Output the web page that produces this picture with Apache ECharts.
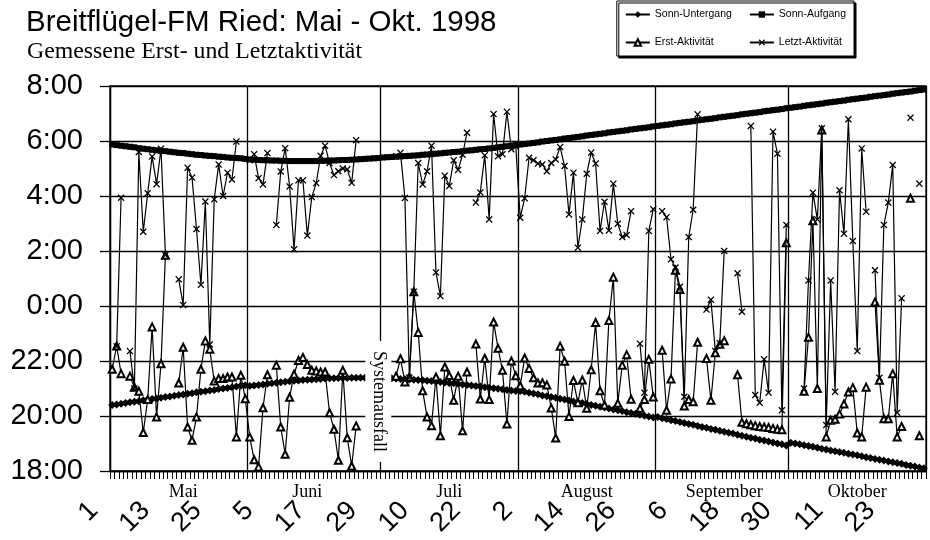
<!DOCTYPE html>
<html><head><meta charset="utf-8">
<script src="https://cdn.jsdelivr.net/npm/echarts@6/dist/echarts.min.js"></script>
<style>html,body{margin:0;padding:0;background:#fff}#chart{width:930px;height:540px}</style>
</head><body><div id="chart"></div>
<script>
// ---- categories / tick labels ----
const monthNames = ['Mai', 'Juni', 'Juli', 'August', 'September', 'Oktober'];
const monthDays = [31, 30, 31, 31, 30, 31];
const monthLabelIndex = [16, 44, 76, 107, 138, 168];
const dayTickLabels = ['1', '13', '25', '5', '17', '29', '10', '22', '2', '14', '26', '6', '18', '30', '11', '23'];
const yTickLabels = ['18:00', '20:00', '22:00', '0:00', '2:00', '4:00', '6:00', '8:00'];

// values: hours after 18:00
// Sonn-Aufgang
const aufgangMai = [11.87, 11.85, 11.83, 11.81, 11.79, 11.77, 11.74, 11.72, 11.70, 11.68, 11.66, 11.64, 11.63, 11.61, 11.59, 11.57, 11.56, 11.54, 11.52, 11.50, 11.49, 11.47, 11.46, 11.45, 11.43, 11.42, 11.40, 11.39, 11.38, 11.37, 11.35];
const aufgangJuni = [11.33, 11.32, 11.31, 11.30, 11.30, 11.29, 11.29, 11.28, 11.28, 11.27, 11.27, 11.27, 11.27, 11.27, 11.27, 11.27, 11.28, 11.28, 11.29, 11.29, 11.30, 11.31, 11.31, 11.32, 11.33, 11.34, 11.35, 11.36, 11.37, 11.38];
const aufgangJuli = [11.40, 11.41, 11.42, 11.43, 11.44, 11.45, 11.46, 11.47, 11.48, 11.50, 11.51, 11.52, 11.54, 11.55, 11.57, 11.58, 11.60, 11.61, 11.63, 11.65, 11.66, 11.68, 11.70, 11.71, 11.73, 11.75, 11.77, 11.79, 11.81, 11.83, 11.85];
const aufgangAugust = [11.87, 11.89, 11.91, 11.93, 11.95, 11.98, 12.00, 12.02, 12.04, 12.06, 12.09, 12.11, 12.13, 12.15, 12.17, 12.20, 12.22, 12.24, 12.26, 12.28, 12.31, 12.33, 12.35, 12.37, 12.39, 12.42, 12.44, 12.46, 12.48, 12.50, 12.53];
const aufgangSeptember = [12.55, 12.57, 12.59, 12.61, 12.64, 12.66, 12.68, 12.70, 12.72, 12.75, 12.77, 12.79, 12.81, 12.83, 12.86, 12.88, 12.90, 12.92, 12.94, 12.97, 12.99, 13.01, 13.03, 13.05, 13.08, 13.10, 13.12, 13.14, 13.16, 13.19];
const aufgangOktober = [13.21, 13.23, 13.25, 13.28, 13.30, 13.32, 13.34, 13.36, 13.39, 13.41, 13.43, 13.45, 13.47, 13.50, 13.52, 13.54, 13.56, 13.58, 13.61, 13.63, 13.65, 13.67, 13.69, 13.72, 13.74, 13.76, 13.78, 13.80, 13.83, 13.85, 13.87];

// Sonn-Untergang
const untergangMai = [2.40, 2.42, 2.45, 2.47, 2.50, 2.52, 2.54, 2.57, 2.59, 2.62, 2.64, 2.66, 2.69, 2.71, 2.74, 2.76, 2.78, 2.81, 2.83, 2.86, 2.88, 2.90, 2.93, 2.95, 2.98, 3.00, 3.02, 3.05, 3.07, 3.10, 3.12];
const untergangJuni = [3.09, 3.11, 3.13, 3.15, 3.17, 3.19, 3.21, 3.23, 3.25, 3.26, 3.28, 3.29, 3.31, 3.32, 3.33, 3.34, 3.35, 3.36, 3.37, 3.37, 3.38, 3.38, 3.38, 3.39, 3.39, 3.39, 3.39, null, null, null];
const untergangJuli = [null, null, 3.37, 3.36, 3.35, 3.34, 3.33, 3.32, 3.31, 3.30, 3.28, 3.27, 3.25, 3.24, 3.22, 3.20, 3.19, 3.17, 3.15, 3.13, 3.11, 3.09, 3.07, 3.05, 3.03, 3.01, 2.99, 2.97, 2.95, 2.93, 2.91];
const untergangAugust = [2.91, 2.88, 2.85, 2.82, 2.79, 2.75, 2.72, 2.69, 2.66, 2.63, 2.60, 2.56, 2.53, 2.50, 2.47, 2.44, 2.40, 2.37, 2.34, 2.31, 2.27, 2.24, 2.21, 2.18, 2.14, 2.11, 2.08, 2.05, 2.01, 1.98, 1.95];
const untergangSeptember = [1.96, 1.92, 1.89, 1.85, 1.82, 1.78, 1.75, 1.71, 1.68, 1.64, 1.60, 1.57, 1.53, 1.50, 1.46, 1.43, 1.39, 1.36, 1.32, 1.28, 1.25, 1.21, 1.18, 1.14, 1.11, 1.07, 1.04, 1.00, 0.97, 0.93];
const untergangOktober = [1.03, 1.00, 0.97, 0.94, 0.91, 0.88, 0.85, 0.81, 0.78, 0.75, 0.72, 0.69, 0.66, 0.63, 0.60, 0.57, 0.54, 0.50, 0.47, 0.44, 0.41, 0.38, 0.35, 0.32, 0.29, 0.26, 0.22, 0.19, 0.16, 0.13, 0.10];

// Erst-Aktivität
const erstMai = [3.7, 4.55, 3.54, null, 3.45, 3.05, 2.9, 1.4, 2.6, 5.24, 1.96, 3.9, 7.85, null, null, 3.2, 4.5, 1.6, 1.12, 1.96, 3.7, 4.73, 4.43, 3.27, 3.36, 3.36, 3.42, 3.42, 1.24, 3.48, 2.63];
const erstJuni = [1.24, 0.41, 0.15, 2.3, 3.5, null, 3.85, 1.6, 0.61, 2.68, 3.52, 4.02, 4.13, 3.87, 3.66, 3.64, 3.6, 3.6, 2.12, 1.52, 0.39, 3.66, 1.21, 0.18, 1.64, null, null, null, null, null];
const erstJuli = [null, null, null, 3.45, 4.08, 3.24, 3.42, 6.52, 5.04, 2.92, 1.96, 1.65, 3.42, 1.28, 3.78, 3.47, 2.57, 3.45, 1.46, 3.6, null, 4.62, 2.62, 4.1, 2.6, 5.42, 4.46, 3.66, 1.71, 4.0, 3.46];
const erstAugust = [3.1, 4.11, 3.73, 3.39, 3.2, 3.21, 3.13, 2.29, 1.2, 4.54, 3.99, 1.98, 3.29, 2.48, 3.31, 2.28, 3.68, 5.4, 2.92, 2.4, 5.47, 7.05, 2.46, 3.85, 4.23, 2.61, null, 2.28, 2.6, 4.06, 2.69];
const erstSeptember = [null, 4.39, 2.21, 3.35, 7.3, 6.6, 2.36, 2.6, 2.52, 4.68, null, 4.09, 2.57, 4.3, 4.61, 4.74, null, null, 3.5, 1.77, 1.72, 1.68, 1.65, 1.62, 1.6, 1.58, 1.55, 1.52, 1.5, 8.3];
const erstOktober = [null, null, null, 2.9, 4.86, 9.1, 3.0, 12.4, 1.24, 1.85, 1.88, 2.07, 2.44, 2.87, 3.03, 1.38, 1.24, 3.05, null, 6.15, 3.3, 1.9, 1.9, 3.54, 1.24, 1.62, null, 9.92, null, 1.28, null];

// Letzt-Aktivität
const letztMai = [null, 4.53, 9.94, null, 4.36, 3.0, 11.6, 8.7, 10.1, 11.44, 10.43, 11.72, 7.85, null, null, 6.97, 6.04, 11.03, 10.67, 8.8, 6.77, 9.8, 4.6, 9.88, 11.15, 10.0, 10.85, 10.6, 11.98, null, null];
const letztJuni = [11.3, 11.52, 10.65, 10.42, 11.56, null, 8.95, 10.89, 11.74, 10.35, 8.06, 10.57, 10.57, 8.56, 9.96, 10.47, 11.46, 11.83, 11.2, 10.76, 10.9, 11.0, 10.97, 10.48, 12.03, null, null, null, null, null];
const letztJuli = [null, null, null, 11.45, 11.57, 9.93, 3.4, 6.52, 11.2, 10.42, 10.9, 11.83, 7.22, 6.36, 10.74, 10.36, 11.3, 10.95, 11.5, 12.3, null, 9.76, 10.13, 11.48, 9.15, 12.98, 11.45, 11.52, 13.06, 11.7, 11.8];
const letztAugust = [9.21, 9.92, 11.39, 11.3, 11.18, 11.15, 10.9, 11.2, 11.33, 11.78, 11.09, 9.33, 10.85, 8.12, 9.15, 10.81, 11.58, 11.18, 8.73, 9.79, 8.75, 10.45, 8.99, 8.51, 8.58, 9.45, null, 4.63, 2.85, 8.73, 9.52];
const letztSeptember = [null, 9.45, 9.23, 7.7, 7.4, 6.7, 2.7, 8.51, 9.5, 12.97, null, 5.87, 6.23, 4.36, 4.65, 8.0, null, null, 7.19, 5.79, null, 12.55, 2.76, 2.48, 4.06, 2.85, 12.34, 11.54, 2.21, 8.95];
const letztOktober = [null, null, null, 3.0, 6.93, 10.12, 9.15, 12.46, 1.67, 6.93, 2.88, 10.21, 8.63, 12.79, 8.36, 4.36, 11.73, 9.43, null, 7.3, 3.39, 8.95, 9.76, 11.13, 2.12, 6.28, null, 12.85, null, 10.45, null];

// ---- build ----
const join = (...a) => [].concat(...a);
const aufgang = join(aufgangMai, aufgangJuni, aufgangJuli, aufgangAugust, aufgangSeptember, aufgangOktober);
const erst = join(erstMai, erstJuni, erstJuli, erstAugust, erstSeptember, erstOktober);
const letzt = join(letztMai, letztJuni, letztJuli, letztAugust, letztSeptember, letztOktober);
const untergangMonths = [untergangMai, untergangJuni, untergangJuli, untergangAugust, untergangSeptember, untergangOktober];
const nDays = aufgang.length;
const cats = Array.from({length: nDays}, (_, i) => String(i));
const monthStart = [];
{ let s = 0; monthDays.forEach(d => { monthStart.push(s); s += d; }); }
// slots for the rotated day-number row (its spacing in the original is slightly tighter than the day grid)
const labelSlots = Array.from({length: 189}, (_, i) => String(i));

const crossPath = 'path://M0,1.3L1.3,0L5,3.7L8.7,0L10,1.3L6.3,5L10,8.7L8.7,10L5,6.3L1.3,10L0,8.7L3.7,5Z';
const black = '#000';
const gridW = 1.3;

const untergangSeries = untergangMonths.map((arr, m) => {
  const data = new Array(nDays).fill(null);
  arr.forEach((v, i) => { data[monthStart[m] + i] = v; });
  return {
    name: 'Sonn-Untergang', type: 'line', data: data, xAxisIndex: 0,
    symbol: 'diamond', symbolSize: 8, showAllSymbol: true,
    lineStyle: {color: black, width: 4}, itemStyle: {color: black},
    emphasis: {disabled: true}, silent: true, z: 2
  };
});

const chart = echarts.init(document.getElementById('chart'), null, {renderer: 'canvas'});
chart.setOption({
  animation: false,
  backgroundColor: '#fff',
  title: [
    {text: 'Breitflügel-FM Ried: Mai - Okt. 1998', left: 26, top: 8, padding: 0,
     textStyle: {fontFamily: 'Liberation Sans', fontSize: 29.5, fontWeight: 'normal', color: black}},
    {text: 'Gemessene Erst- und Letztaktivität', left: 27, top: 40, padding: 0,
     textStyle: {fontFamily: 'Liberation Serif', fontSize: 23.8, fontWeight: 'normal', color: black}}
  ],
  legend: {
    orient: 'vertical', right: 76, top: 1, height: 45, itemGap: 17,
    padding: [8, 8, 8, 8], itemWidth: 24, itemHeight: 8,
    data: ['Sonn-Untergang', 'Erst-Aktivität', 'Sonn-Aufgang', 'Letzt-Aktivität'],
    borderColor: black, borderWidth: 1, backgroundColor: '#fff',
    shadowColor: black, shadowOffsetX: 2, shadowOffsetY: 2, shadowBlur: 0,
    selectedMode: false,
    textStyle: {fontFamily: 'Liberation Sans', fontSize: 10.5, color: black}
  },
  grid: {left: 110, top: 86, width: 816, height: 385, show: true, borderColor: black, borderWidth: gridW,
         containLabel: false, outerBoundsMode: 'none'},
  xAxis: [
    {
      type: 'category', data: cats, boundaryGap: true, position: 'bottom',
      axisLine: {show: true, lineStyle: {color: black, width: gridW}},
      axisTick: {show: true, interval: 0, length: 8, lineStyle: {color: black, width: 1}},
      axisLabel: {
        show: true, margin: 12, color: black, fontFamily: 'Liberation Serif', fontSize: 18,
        interval: (i) => monthLabelIndex.indexOf(i) >= 0,
        formatter: (v, i) => monthNames[monthLabelIndex.indexOf(i)] || ''
      },
      splitLine: {show: true, interval: (i) => monthStart.indexOf(i) >= 0, lineStyle: {color: black, width: gridW}}
    },
    {
      type: 'category', data: labelSlots, boundaryGap: true, position: 'bottom', offset: 0,
      axisLine: {show: false}, axisTick: {show: false}, splitLine: {show: false},
      axisLabel: {
        show: true, interval: 11, rotate: 45, margin: 17, color: black,
        fontFamily: 'Liberation Sans', fontSize: 27, padding: [0, 26, 0, 0],
        formatter: (v, i) => dayTickLabels[Math.round(i / 12)] || ''
      }
    }
  ],
  yAxis: {
    type: 'value', min: 0, max: 14, interval: 2,
    axisLine: {show: true, lineStyle: {color: black, width: gridW}},
    axisTick: {show: true, length: 10, lineStyle: {color: black, width: gridW}},
    axisLabel: {margin: 27, color: black, fontFamily: 'Liberation Sans', fontSize: 29,
                formatter: (v) => yTickLabels[Math.round(v / 2)]},
    splitLine: {show: true, lineStyle: {color: black, width: gridW}}
  },
  series: [
    ...untergangSeries,
    {
      name: 'Sonn-Aufgang', type: 'line', data: aufgang, xAxisIndex: 0,
      symbol: 'rect', symbolSize: 6, showAllSymbol: true,
      lineStyle: {color: black, width: 5}, itemStyle: {color: black},
      emphasis: {disabled: true}, silent: true, z: 2
    },
    {
      name: 'Erst-Aktivität', type: 'line', data: erst, xAxisIndex: 0,
      symbol: 'emptyTriangle', symbolSize: 7, showAllSymbol: true,
      lineStyle: {color: black, width: 1.2}, itemStyle: {color: black, borderWidth: 1.2},
      emphasis: {disabled: true}, silent: true, z: 3
    },
    {
      name: 'Letzt-Aktivität', type: 'line', data: letzt, xAxisIndex: 0,
      symbol: crossPath, symbolSize: 7, showAllSymbol: true,
      lineStyle: {color: black, width: 1.2}, itemStyle: {color: black},
      emphasis: {disabled: true}, silent: true, z: 4,
      markPoint: {
        silent: true, symbol: 'rect', symbolSize: 1, itemStyle: {color: 'rgba(0,0,0,0)'},
        data: [{coord: ['60', 2.53]}],
        label: {show: true, position: 'inside', formatter: 'Systemausfall', rotate: -90,
                fontFamily: 'Liberation Serif', fontSize: 18, color: black,
                backgroundColor: '#fff', padding: [4, 10]}
      }
    }
  ]
});
</script>
</body></html>
